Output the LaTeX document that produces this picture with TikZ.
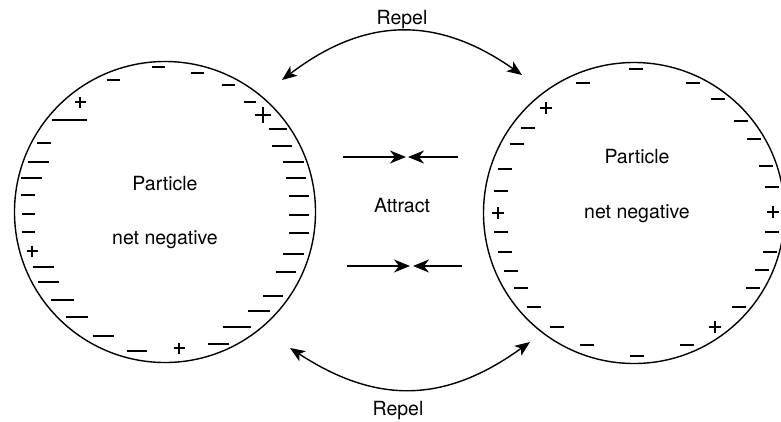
\documentclass[tikz,border=0pt]{standalone}
\usepackage{fontspec}
\setmainfont{TeX Gyre Heros}
\usetikzlibrary{arrows.meta}
\begin{document}
\begin{tikzpicture}[x=1pt,y=-1pt,
  particle/.style={circle, draw, line width=1.4pt, minimum size=301pt, inner sep=0pt},
  lbl/.style={font=\fontsize{19.5}{22}\selectfont, inner sep=0pt, anchor=base},
  repel/.style={line width=1.4pt, {Stealth[length=15pt,width=12pt,inset=4pt]}-{Stealth[length=15pt,width=12pt,inset=4pt]}},
  attract/.style={line width=1.4pt, -{Stealth[length=16pt,width=13pt,inset=5pt]}},
  minus/.style={line width=1.6pt},
  thickminus/.style={line width=2.4pt},
  plus/.style={line width=1.4pt}
]
\useasboundingbox (0,0) rectangle (781,421);

% particles
\node[particle] (L) at (165,212) {};
\node[particle] (R) at (634,213) {};

% texts
\node[lbl] (Lp) at (165,190) {Particle};
\node[lbl] (Ln) at (165,244) {net negative};
\node[lbl] (Rp) at (637,163) {Particle};
\node[lbl] (Rn) at (637,218) {net negative};
\node[lbl] (At) at (402,212) {Attract};
\node[lbl] (Rt) at (402,24) {Repel};
\node[lbl] (Rb) at (398,415) {Repel};

% repel arrows
\coordinate (tl) at (282,80);
\coordinate (tr) at (522,75);
\coordinate (bl) at (290,348);
\coordinate (br) at (530,342);
\draw[repel] (tl) .. controls (366,16) and (438,16) .. (tr);
\draw[repel] (bl) .. controls (376,404) and (444,404) .. (br);

% attract arrows
\coordinate (a1l) at (343,157);
\coordinate (a1r) at (458,157);
\coordinate (a1m) at (406,157);
\coordinate (a1n) at (408,157);
\coordinate (a2l) at (347,266);
\coordinate (a2r) at (462,266);
\coordinate (a2m) at (410,266);
\coordinate (a2n) at (413,266);
\draw[attract] (a1l) -- (a1m);
\draw[attract] (a1r) -- (a1n);
\draw[attract] (a2l) -- (a2m);
\draw[attract] (a2r) -- (a2n);

% left particle charges: thin minus signs
\foreach \x/\y/\l in {158/67/13, 197/73/13, 113/80/13, 228/85/13, 69/120/35, 250/102/12,
  278/129/18, 282/146/20, 44/143/14, 38/162/21, 28/195/14, 28/214/13, 28/232/13,
  299/215/20, 299/233/20, 293/254/21, 43/267/21, 286/272/20, 48/282/21, 273/296/20,
  62/300/23, 77/317/22, 103/336/21, 137/351/20}
  \draw[minus] (\x-\l/2,\y) -- (\x+\l/2,\y);
% left particle charges: thick minus signs
\foreach \x/\y/\l in {293/162/21, 31/178/21, 296/178/20, 299/196/20, 259/311/22, 237/327/28, 218/344/21}
  \draw[thickminus] (\x-\l/2,\y) -- (\x+\l/2,\y);
% left plus signs
\foreach \x/\y/\s in {80/102/11, 32/251/11, 179/348/11}
  \draw[plus] (\x-\s/2,\y) -- (\x+\s/2,\y) (\x,\y-\s/2) -- (\x,\y+\s/2);
\draw[line width=2.2pt] (255,115) -- (271,115) (263,107) -- (263,123);

% right particle charges: minus signs
\foreach \x/\y in {636/69, 583/83, 693/83, 718/99, 528/128, 741/121, 517/144, 754/139,
  505/169, 766/166, 501/191, 772/187, 501/232, 772/232, 505/252, 770/252, 511/271,
  762/270, 521/288, 753/288, 534/307, 739/307, 557/327, 587/345, 687/345, 637/356}
  \draw[minus] (\x-7,\y) -- (\x+7,\y);
% right plus signs
\foreach \x/\y in {546/108, 498/213, 773/212, 715/327}
  \draw[plus] (\x-6,\y) -- (\x+6,\y) (\x,\y-6) -- (\x,\y+6);
\end{tikzpicture}
\end{document}
